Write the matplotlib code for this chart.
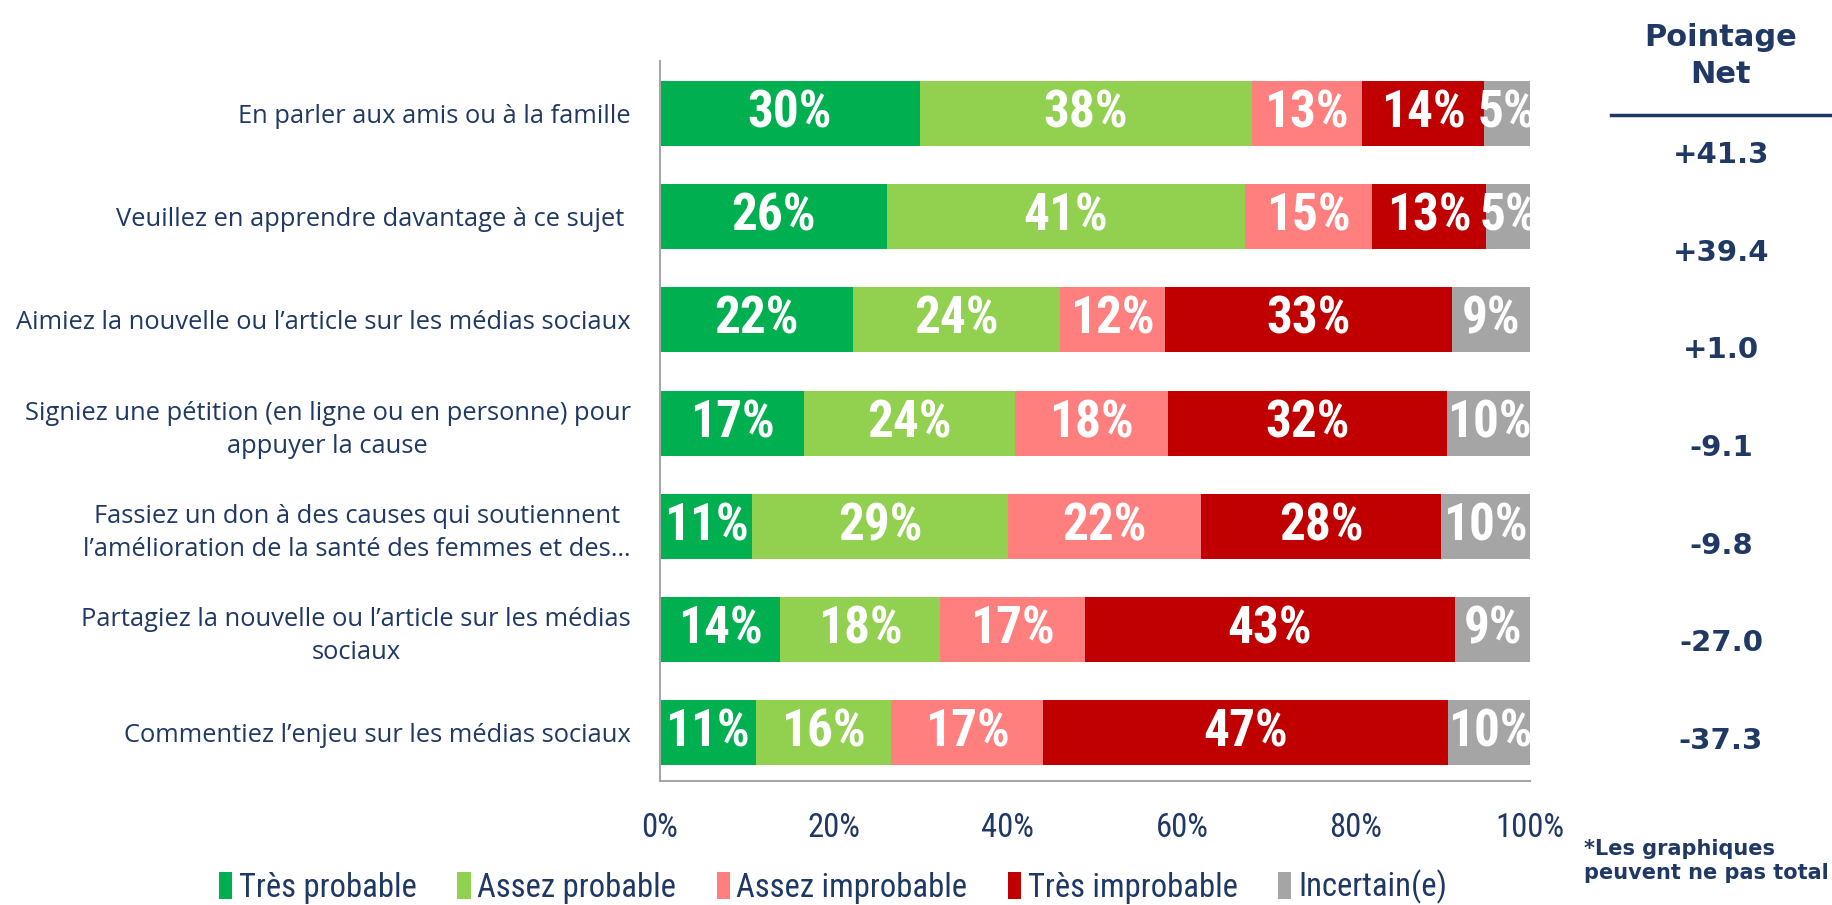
import numpy as np
import matplotlib
matplotlib.use("Agg")
import matplotlib.pyplot as plt
import matplotlib.font_manager as fm
from matplotlib.lines import Line2D
from matplotlib.patches import Patch

# ---------------- data ----------------
categories = [
    "En parler aux amis ou à la famille",
    "Veuillez en apprendre davantage à ce sujet ",
    "Aimiez la nouvelle ou l\u2019article sur les médias sociaux",
    "Signiez une pétition (en ligne ou en personne) pour\nappuyer la cause",
    "Fassiez un don à des causes qui soutiennent\nl\u2019amélioration de la santé des femmes et des\u2026",
    "Partagiez la nouvelle ou l\u2019article sur les médias\nsociaux",
    "Commentiez l\u2019enjeu sur les médias sociaux",
]
series_names = ["Très probable", "Assez probable", "Assez improbable",
                "Très improbable", "Incertain(e)"]
tres_probable = [29.9, 26.1, 22.2, 16.6, 10.6, 13.8, 11.0]
assez_probable = [38.1, 41.1, 23.8, 24.2, 29.4, 18.4, 15.6]
assez_improbable = [12.7, 14.6, 12.1, 17.6, 22.2, 16.6, 17.4]
tres_improbable = [14.0, 13.2, 32.9, 32.1, 27.6, 42.6, 46.6]
incertain = [5.3, 5.1, 9.1, 9.6, 10.2, 8.7, 9.6]
net_scores = ["+41.3", "+39.4", "+1.0", "-9.1", "-9.8", "-27.0", "-37.3"]
x_ticks = [0, 20, 40, 60, 80, 100]
x_tick_labels = ["0%", "20%", "40%", "60%", "80%", "100%"]

colors = ["#00AF50", "#92D050", "#FF7F7F", "#C00000", "#A5A5A5"]
navy = "#1F3864"

names = {f.name for f in fm.fontManager.ttflist}
def pick(*cands):
    for c in cands:
        if c in names:
            return c
    return "DejaVu Sans"
narrow = pick("Liberation Sans Narrow", "Roboto Condensed", "Liberation Sans")
body = pick("Open Sans", "Lato", "Liberation Sans")
wide_bold = pick("DejaVu Sans")

fig = plt.figure(figsize=(18.33, 9.05), dpi=100)
ax = fig.add_axes([660 / 1833, 1 - 781 / 905, 870 / 1833, (781 - 61) / 905])

series = [tres_probable, assez_probable, assez_improbable, tres_improbable, incertain]
y = np.arange(len(categories))
left = np.zeros(len(categories))
for vals, col, nm in zip(series, colors, series_names):
    vals = np.array(vals, dtype=float)
    ax.barh(y, vals, left=left, height=0.63, color=col, label=nm, linewidth=0)
    for yi, (l, v) in enumerate(zip(left, vals)):
        ax.text(l + v / 2, yi, f"{v:.0f}%", ha="center", va="center",
                color="white", fontsize=37, fontweight="bold", family=narrow,
                clip_on=False)
    left += vals

ax.set_xlim(0, 100)
ax.set_ylim(len(categories) - 1 + 0.47, -0.51)
ax.set_xticks(x_ticks)
ax.set_xticklabels(x_tick_labels, family=narrow, fontsize=23.5, color=navy)
ax.set_yticks(y)
ax.set_yticklabels(categories, family=body, fontsize=18.4, color=navy)
for lbl in ax.get_yticklabels():
    lbl.set_multialignment("center")
    lbl.set_linespacing(1.4)
ax.tick_params(axis="both", length=0)
ax.tick_params(axis="y", pad=21)
ax.tick_params(axis="x", pad=22)
for s in ["top", "right"]:
    ax.spines[s].set_visible(False)
for s in ["left", "bottom"]:
    ax.spines[s].set_color("#A6A6A6")
    ax.spines[s].set_linewidth(1.5)

# Net score column
xc = 1721 / 1833
fig.text(xc, 1 - 56 / 905, "Pointage\nNet", ha="center", va="center",
         fontsize=22, fontweight="bold", color=navy, family=wide_bold,
         linespacing=1.35)
fig.add_artist(Line2D([1611 / 1833, 1.0], [1 - 115 / 905] * 2, color=navy, lw=2.5))
ys = np.linspace(155, 741, len(net_scores))
for yy, s in zip(ys, net_scores):
    fig.text(xc, 1 - yy / 905, s, ha="center", va="center", fontsize=21,
             fontweight="bold", color=navy, family=wide_bold)

fig.text(1584 / 1833, 1 - 861 / 905, "*Les graphiques\npeuvent ne pas total",
         ha="left", va="center", fontsize=15, fontweight="bold", color=navy,
         family=wide_bold, linespacing=1.3)

handles = [Patch(facecolor=c, edgecolor="none") for c in colors]
fig.legend(handles, series_names, loc="center", bbox_to_anchor=(0.4545, 1 - 887 / 905),
           ncol=5, frameon=False, prop={"family": narrow, "size": 23.5},
           labelcolor=navy, handlelength=0.4, handleheight=0.9,
           handletextpad=0.2, columnspacing=1.25)

fig.savefig("out.png", dpi=100)
